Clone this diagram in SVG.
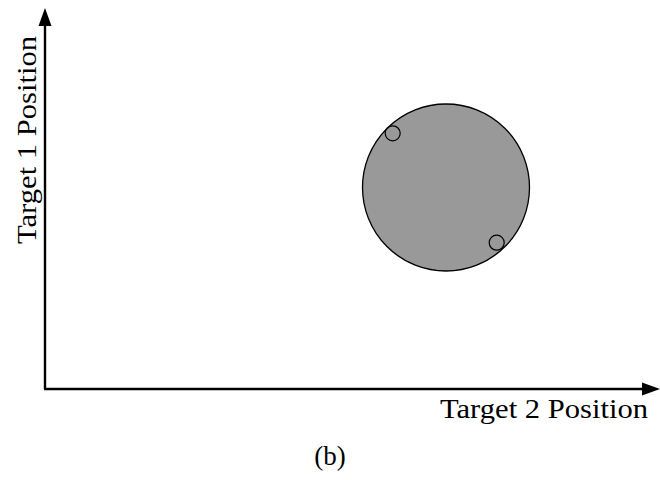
<svg xmlns="http://www.w3.org/2000/svg" width="660" height="480" viewBox="0 0 660 480">
<style>
.axis{stroke:#000;stroke-width:2.4;fill:none}
.lbl{font-family:"Liberation Serif","DejaVu Serif",serif;font-size:27px;fill:#000}
.small{fill:none;stroke:#000;stroke-width:1.2}
</style>
<rect width="660" height="480" fill="#fff"/>
<g id="connectors">
<line class="axis" x1="45" y1="389" x2="45" y2="22"/>
<polygon points="45,8 38.5,26 51.5,26" fill="#000"/>
<line class="axis" x1="44" y1="389" x2="646" y2="389"/>
<polygon points="660,389 642,382.5 642,395.5" fill="#000"/>
</g>
<g id="region">
<circle cx="446" cy="187.5" r="83.5" fill="#999" stroke="#000" stroke-width="1.3"/>
</g>
<g id="point1"><circle class="small" cx="392.7" cy="133.3" r="7.5"/></g>
<g id="point2"><circle class="small" cx="496.7" cy="242.7" r="7.5"/></g>
<g id="ylabel"><text class="lbl" transform="translate(35.5,140) rotate(-90)" text-anchor="middle" textLength="208" lengthAdjust="spacingAndGlyphs">Target 1 Position</text></g>
<g id="xlabel"><text class="lbl" x="440" y="418" textLength="208" lengthAdjust="spacingAndGlyphs">Target 2 Position</text></g>
<g id="caption"><text class="lbl" x="330" y="465" text-anchor="middle" font-size="28">(b)</text></g>
</svg>
